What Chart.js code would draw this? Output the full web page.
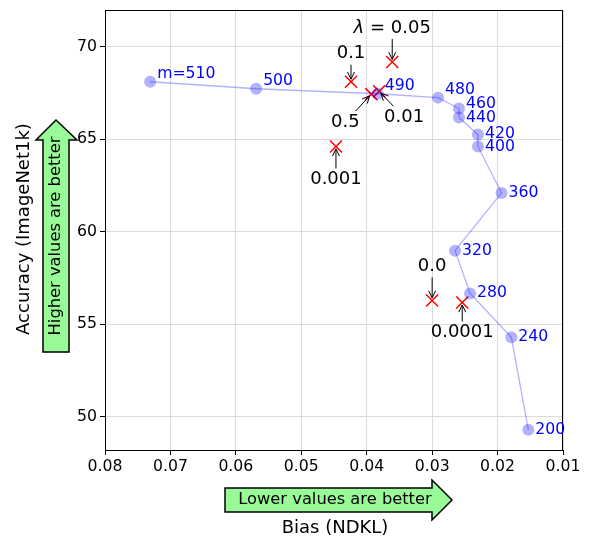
<!DOCTYPE html>
<html>
<head>
<meta charset="utf-8">
<script src="https://cdn.jsdelivr.net/npm/chart.js@4.4.0/dist/chart.umd.min.js"></script>
<style>
  html, body { margin: 0; padding: 0; background: #fff; }
  #wrap { width: 589px; height: 541px; }
</style>
</head>
<body>
<div id="wrap"><canvas id="chart" width="589" height="541"></canvas></div>
<script>
// m sweep (blue line)
const mLabels = ['m=510', '500', '490', '480', '460', '440', '420', '400', '360', '320', '280', '240', '200'];
const mBias = [0.0731, 0.0569, 0.0383, 0.0291, 0.0259, 0.0259, 0.0230, 0.0230, 0.0194, 0.0265, 0.0242, 0.0179, 0.0153];
const mAcc = [68.12, 67.74, 67.47, 67.26, 66.67, 66.18, 65.27, 64.62, 62.10, 58.98, 56.67, 54.30, 49.30];

// lambda sweep (red crosses)
const lamLabels = ['λ = 0.05', '0.1', '0.5', '0.01', '0.001', '0.0', '0.0001'];
const lamBias = [0.0361, 0.0424, 0.0393, 0.0381, 0.0447, 0.0300, 0.0254];
const lamAcc = [69.19, 68.12, 67.45, 67.60, 64.62, 56.29, 56.18];

const xTicks = [0.08, 0.07, 0.06, 0.05, 0.04, 0.03, 0.02, 0.01];
const yTicks = [50, 55, 60, 65, 70];

const FONT = "'DejaVu Sans', sans-serif";

// label placement (pixels)
const mLabelLift = [8, 8, 8, 8, 5, 0, 0, 0, 0, 0, 0, 0, 0];
const lamTextOffset = [[0, -34], [0, -28], [-26, 28], [25, 26], [0, 33], [0, -34], [0, 30]];

function arrowTo(ctx, sx, sy, ex, ey) {
  const a = Math.atan2(ey - sy, ex - sx);
  const hl = 8, hw = 0.45;
  ctx.beginPath();
  ctx.moveTo(sx, sy);
  ctx.lineTo(ex, ey);
  ctx.moveTo(ex - hl * Math.cos(a - hw), ey - hl * Math.sin(a - hw));
  ctx.lineTo(ex, ey);
  ctx.lineTo(ex - hl * Math.cos(a + hw), ey - hl * Math.sin(a + hw));
  ctx.stroke();
}

function greenArrow(ctx, pts) {
  ctx.beginPath();
  pts.forEach((p, i) => (i ? ctx.lineTo(p[0], p[1]) : ctx.moveTo(p[0], p[1])));
  ctx.closePath();
  ctx.fillStyle = '#98fb98';
  ctx.fill();
  ctx.lineWidth = 1.5;
  ctx.strokeStyle = '#000';
  ctx.lineJoin = 'miter';
  ctx.stroke();
}

function noPad(s) {
  s.paddingTop = 0;
  s.paddingBottom = 0;
  s.paddingLeft = 0;
  s.paddingRight = 0;
}

const decor = {
  id: 'decor',
  afterDatasetsDraw(chart) {
    const { ctx, scales: { x, y }, chartArea: ca } = chart;
    ctx.save();
    // frame
    ctx.strokeStyle = '#000';
    ctx.lineWidth = 1;
    ctx.strokeRect(Math.round(ca.left) + 0.5, Math.round(ca.top) + 0.5,
      Math.round(ca.right - ca.left) - 1, Math.round(ca.bottom - ca.top));

    // blue m labels
    ctx.fillStyle = '#0000ff';
    ctx.font = '15.7px ' + FONT;
    ctx.textAlign = 'left';
    ctx.textBaseline = 'middle';
    mLabels.forEach((t, i) => {
      ctx.fillText(t, x.getPixelForValue(mBias[i]) + 7, y.getPixelForValue(mAcc[i]) - mLabelLift[i]);
    });

    // lambda annotations
    ctx.fillStyle = '#000';
    ctx.strokeStyle = '#000';
    ctx.lineWidth = 1;
    ctx.font = '18px ' + FONT;
    ctx.textAlign = 'center';
    lamLabels.forEach((t, i) => {
      const px = x.getPixelForValue(lamBias[i]);
      const py = y.getPixelForValue(lamAcc[i]);
      const cx = px + lamTextOffset[i][0];
      const cy = py + lamTextOffset[i][1];
      let w;
      if (t.startsWith('λ')) {
        const rest = t.slice(1);
        ctx.font = 'italic 18px ' + FONT;
        const wl = ctx.measureText('λ').width;
        ctx.font = '18px ' + FONT;
        const wr = ctx.measureText(rest).width;
        w = wl + wr;
        ctx.textAlign = 'left';
        ctx.font = 'italic 18px ' + FONT;
        ctx.fillText('λ', cx - w / 2, cy);
        ctx.font = '18px ' + FONT;
        ctx.fillText(rest, cx - w / 2 + wl, cy);
        ctx.textAlign = 'center';
      } else {
        w = ctx.measureText(t).width;
        ctx.fillText(t, cx, cy);
      }
      const dx = px - cx, dy = py - cy;
      const len = Math.hypot(dx, dy);
      const hw = w / 2 + 2, hh = 11;
      const tt = Math.min(dx ? hw / Math.abs(dx) : Infinity, dy ? hh / Math.abs(dy) : Infinity);
      const sx = cx + tt * dx, sy = cy + tt * dy;
      const ex = px - 2.5 * dx / len, ey = py - 2.5 * dy / len;
      arrowTo(ctx, sx, sy, ex, ey);
    });
    ctx.restore();
  },
  afterDraw(chart) {
    const { ctx } = chart;
    ctx.save();
    // axis titles
    ctx.fillStyle = '#000';
    ctx.font = '18px ' + FONT;
    ctx.textAlign = 'center';
    ctx.textBaseline = 'middle';
    ctx.fillText('Bias (NDKL)', 335, 528);
    ctx.save();
    ctx.translate(24, 229);
    ctx.rotate(-Math.PI / 2);
    ctx.fillText('Accuracy (ImageNet1k)', 0, 0);
    ctx.restore();

    // "better" arrows
    greenArrow(ctx, [[225, 488], [432, 488], [432, 480], [452, 500], [432, 520], [432, 512], [225, 512]]);
    greenArrow(ctx, [[43, 352], [43, 140], [36, 140], [56, 120], [77, 140], [69, 140], [69, 352]]);
    ctx.fillStyle = '#000';
    ctx.font = '16.3px ' + FONT;
    ctx.fillText('Lower values are better', 335, 500);
    ctx.translate(56, 236);
    ctx.rotate(-Math.PI / 2);
    ctx.fillText('Higher values are better', 0, 0);
    ctx.restore();
  }
};

new Chart(document.getElementById('chart'), {
  type: 'scatter',
  data: {
    datasets: [
      {
        data: mBias.map((v, i) => ({ x: v, y: mAcc[i] })),
        showLine: true,
        borderColor: 'rgba(0,0,255,0.3)',
        borderWidth: 1.3,
        pointRadius: 6,
        pointBackgroundColor: 'rgba(0,0,255,0.3)',
        pointBorderWidth: 0,
      },
      {
        data: lamBias.map((v, i) => ({ x: v, y: lamAcc[i] })),
        pointStyle: 'crossRot',
        pointRadius: 8.5,
        pointBorderColor: '#ff0000',
        pointBorderWidth: 1.5,
        showLine: false,
      },
    ],
  },
  options: {
    responsive: false,
    animation: false,
    devicePixelRatio: 1,
    layout: { padding: { top: 8, right: 26, left: 0, bottom: 0 } },
    plugins: { legend: { display: false }, tooltip: { enabled: false } },
    scales: {
      x: {
        type: 'linear',
        min: 0.01,
        max: 0.08,
        reverse: true,
        afterBuildTicks: (s) => { s.ticks = xTicks.map((v) => ({ value: v })); },
        afterFit: (s) => { s.height = 91; noPad(s); },
        grid: { color: '#dcdcdc', tickColor: '#000', tickLength: 5 },
        border: { color: '#000' },
        ticks: {
          color: '#000',
          padding: 3,
          maxRotation: 0,
          font: { family: FONT, size: 15.7 },
          callback: (v) => v.toFixed(2),
        },
      },
      y: {
        min: 48.2,
        max: 72.0,
        afterBuildTicks: (s) => { s.ticks = yTicks.map((v) => ({ value: v })); },
        afterFit: (s) => { s.width = 105; noPad(s); },
        grid: { color: '#dcdcdc', tickColor: '#000', tickLength: 5 },
        border: { color: '#000' },
        ticks: {
          color: '#000',
          padding: 3,
          font: { family: FONT, size: 15.7 },
        },
      },
    },
  },
  plugins: [decor],
});
</script>
</body>
</html>
